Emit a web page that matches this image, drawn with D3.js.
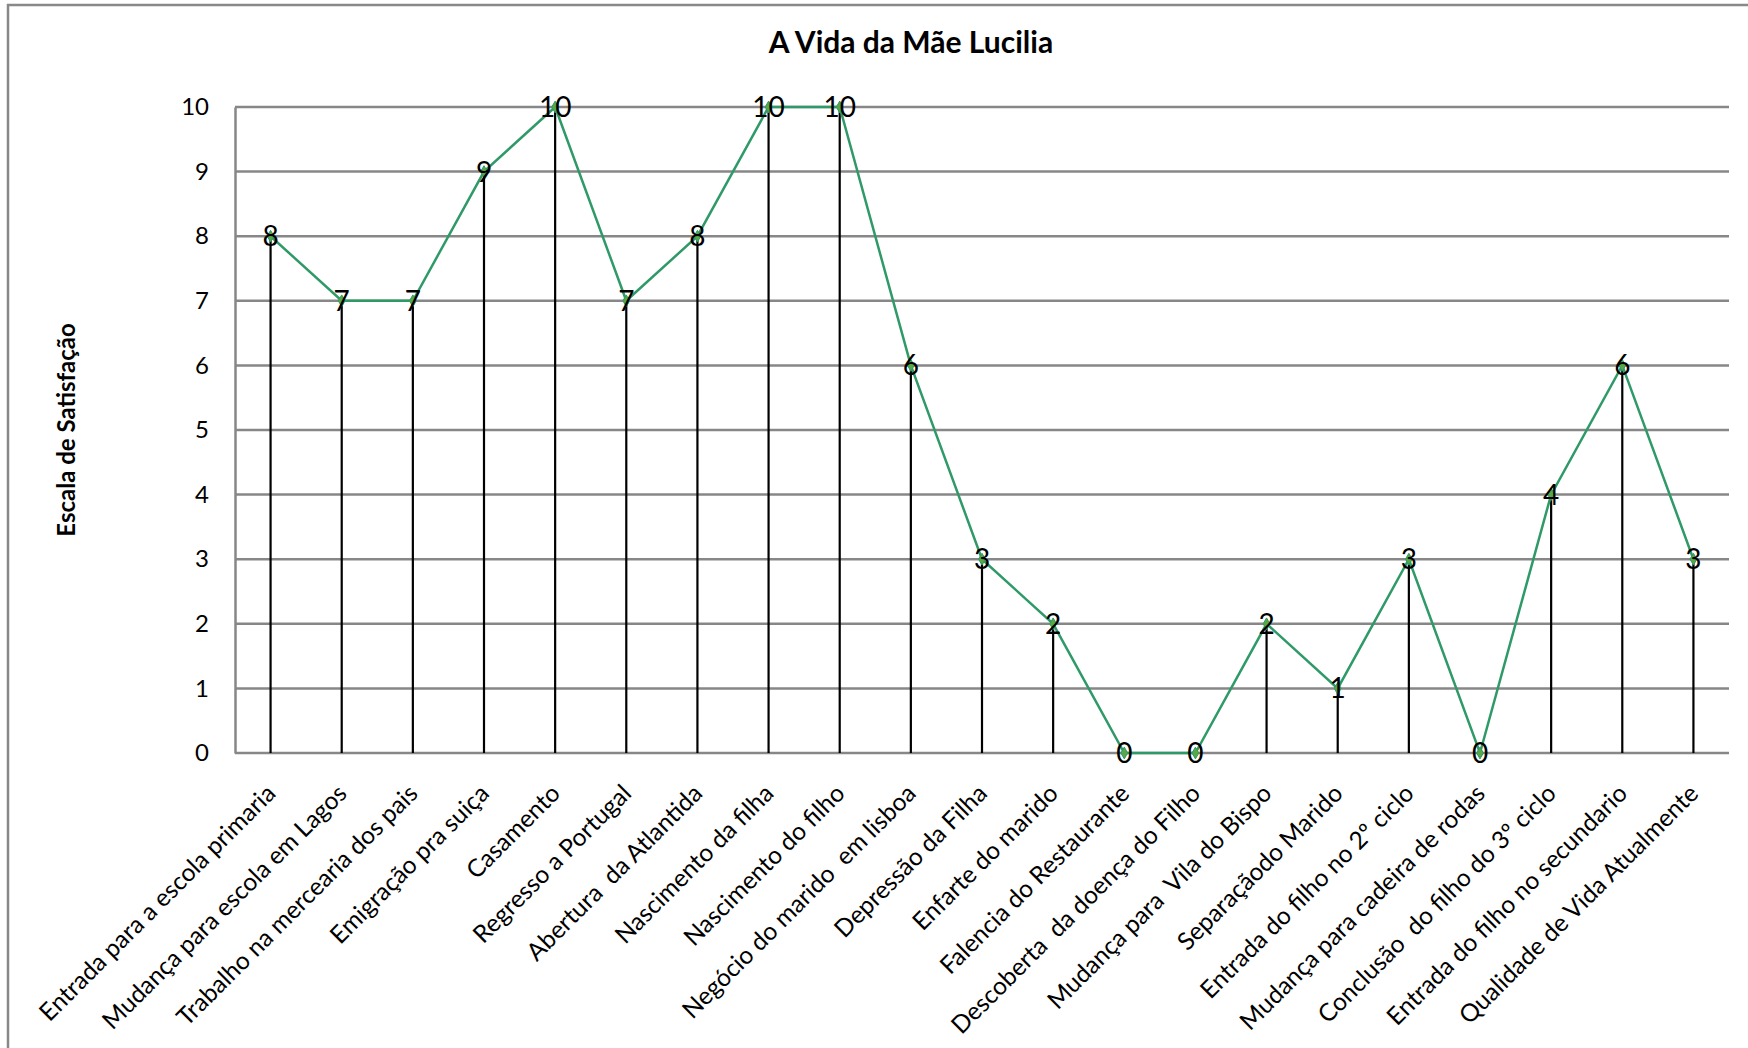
<!DOCTYPE html>
<html>
<head>
<meta charset="utf-8">
<script src="https://cdn.jsdelivr.net/npm/d3@7"></script>
<style>
  html, body { margin: 0; padding: 0; background: #fff; }
  svg { display: block; }
  text { font-family: Lato, "Open Sans", sans-serif; fill: #000; }
  .xlab { white-space: pre; }
</style>
</head>
<body>
<script>
const title = "A Vida da Mãe Lucilia";
const yTitle = "Escala de Satisfação";
const categories = [
  "Entrada para a escola primaria",
  "Mudança para escola em Lagos",
  "Trabalho na mercearia dos pais",
  "Emigração pra suiça",
  "Casamento",
  "Regresso a Portugal",
  "Abertura  da Atlantida",
  "Nascimento da filha",
  "Nascimento do filho",
  "Negócio do marido  em lisboa",
  "Depressão da Filha",
  "Enfarte do marido",
  "Falencia do Restaurante",
  "Descoberta  da doença do Filho",
  "Mudança para  Vila do Bispo",
  "Separaçãodo Marido",
  "Entrada do filho no 2º ciclo",
  "Mudança para cadeira de rodas",
  "Conclusão  do filho do 3º ciclo",
  "Entrada do filho no secundario",
  "Qualidade de Vida Atualmente"
];
const values = [8, 7, 7, 9, 10, 7, 8, 10, 10, 6, 3, 2, 0, 0, 2, 1, 3, 0, 4, 6, 3];
const yTicks = [0, 1, 2, 3, 4, 5, 6, 7, 8, 9, 10];

const W = 1748, H = 1048;
const plot = { left: 235, right: 1729, top: 107, bottom: 753 };

const svg = d3.select("body").append("svg").attr("width", W).attr("height", H);

// chart border (left and top visible)
svg.append("path")
  .attr("d", `M8,${H + 5} L8,5 L${W + 5},5`)
  .attr("fill", "none").attr("stroke", "#898989").attr("stroke-width", 2.5);

const x = d3.scalePoint().domain(categories).range([plot.left, plot.right]).padding(0.5);
const y = d3.scaleLinear().domain([0, 10]).range([plot.bottom, plot.top]);

// gridlines
svg.append("g").selectAll("line").data(yTicks).join("line")
  .attr("x1", plot.left).attr("x2", plot.right)
  .attr("y1", d => y(d)).attr("y2", d => y(d))
  .attr("stroke", "#878787").attr("stroke-width", 2.5);

// y axis
const yAxis = d3.axisLeft(y).tickValues(yTicks).tickSize(0).tickPadding(26);
const gy = svg.append("g").attr("transform", `translate(${plot.left},0)`).call(yAxis);
gy.select(".domain").attr("stroke", "#878787").attr("stroke-width", 2.5);
gy.selectAll("text").attr("font-size", 24).attr("font-family", "Lato, sans-serif").attr("fill", "#000");

// x axis labels
const xAxis = d3.axisBottom(x).tickSize(0).tickPadding(0);
const gx = svg.append("g").attr("transform", `translate(0,${plot.bottom})`).call(xAxis);
gx.select(".domain").remove();
gx.selectAll("text")
  .attr("class", "xlab")
  .attr("font-size", 24.5).attr("font-family", "Lato, sans-serif").attr("fill", "#000")
  .attr("text-anchor", "end")
  .attr("dy", null).attr("y", 0)
  .attr("transform", "translate(6,42) rotate(-45)");

// drop lines
svg.append("g").selectAll("line").data(values).join("line")
  .attr("x1", (d, i) => x(categories[i])).attr("x2", (d, i) => x(categories[i]))
  .attr("y1", d => y(d)).attr("y2", y(0))
  .attr("stroke", "#000").attr("stroke-width", 2.2);

// series line
const line = d3.line().x((d, i) => x(categories[i])).y(d => y(d));
svg.append("path").datum(values)
  .attr("d", line).attr("fill", "none")
  .attr("stroke", "#2f9a68").attr("stroke-width", 2.5);

// markers (small diamonds)
svg.append("g").selectAll("path").data(values).join("path")
  .attr("transform", (d, i) => `translate(${x(categories[i])},${y(d)})`)
  .attr("d", d3.symbol(d3.symbolDiamond, 40))
  .attr("fill", "#5aa845").attr("stroke", "#2f9a68").attr("stroke-width", 1);

// data labels
svg.append("g").selectAll("text").data(values).join("text")
  .attr("x", (d, i) => x(categories[i]))
  .attr("y", d => y(d))
  .attr("dy", "0.36em")
  .attr("text-anchor", "middle")
  .attr("font-size", 28)
  .text(d => d);

// title
svg.append("text").attr("x", 911).attr("y", 53)
  .attr("text-anchor", "middle").attr("font-weight", "bold").attr("font-size", 30)
  .text(title);

// y title
svg.append("text")
  .attr("transform", "translate(66,430) rotate(-90)")
  .attr("text-anchor", "middle").attr("font-weight", "bold").attr("font-size", 24)
  .attr("dy", "0.36em")
  .text(yTitle);
</script>
</body>
</html>
